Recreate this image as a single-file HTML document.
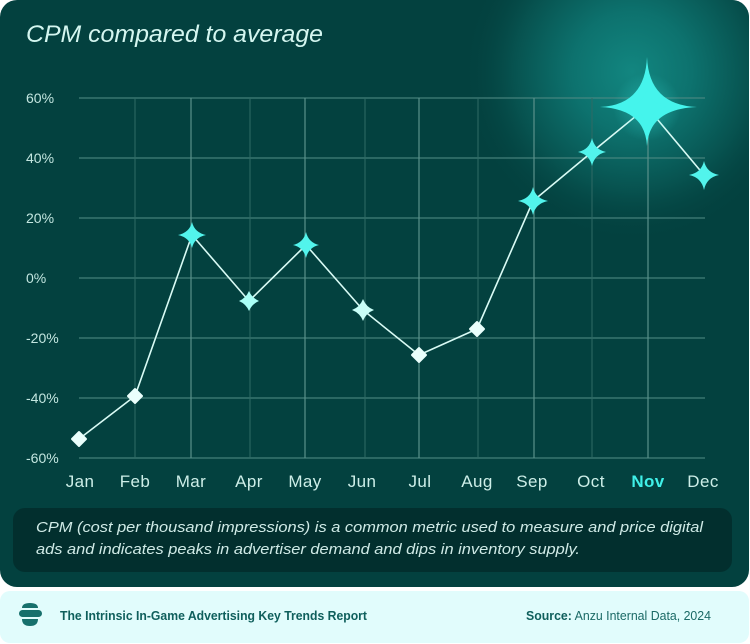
<!DOCTYPE html>
<html><head><meta charset="utf-8"><style>
html,body{margin:0;padding:0;background:#fff;}
svg{display:block;}
text{font-family:"Liberation Sans",sans-serif;}
</style></head><body>
<svg width="750" height="644" viewBox="0 0 750 644" xmlns="http://www.w3.org/2000/svg">
<defs>
<clipPath id="panel"><rect x="0" y="0" width="749" height="587" rx="17"/></clipPath>
<radialGradient id="glow" cx="632" cy="72" r="170" gradientUnits="userSpaceOnUse">
<stop offset="0" stop-color="#128680"/>
<stop offset="0.35" stop-color="#0d726e"/>
<stop offset="0.7" stop-color="#07524f"/>
<stop offset="1" stop-color="#03413f" stop-opacity="0"/>
</radialGradient>
<radialGradient id="starglow" cx="647" cy="107" r="34" gradientUnits="userSpaceOnUse">
<stop offset="0" stop-color="#3ff0e8" stop-opacity="0.35"/>
<stop offset="1" stop-color="#3ff0e8" stop-opacity="0"/>
</radialGradient>
</defs>

<!-- main panel -->
<rect x="0" y="0" width="749" height="587" rx="17" fill="#03413f"/>
<g clip-path="url(#panel)">
<rect x="380" y="-120" width="420" height="400" fill="url(#glow)"/>
</g>

<!-- title -->
<text x="26" y="42" font-size="24" font-style="italic" fill="#d4f6f0" textLength="297" lengthAdjust="spacingAndGlyphs">CPM compared to average</text>

<!-- grid horizontal -->
<g stroke="#4f8a84" stroke-width="1.2" opacity="0.85">
<line x1="79" y1="98" x2="705" y2="98"/>
<line x1="79" y1="158" x2="705" y2="158"/>
<line x1="79" y1="218" x2="705" y2="218"/>
<line x1="79" y1="278" x2="705" y2="278"/>
<line x1="79" y1="338" x2="705" y2="338"/>
<line x1="79" y1="398" x2="705" y2="398"/>
<line x1="79" y1="458" x2="705" y2="458"/>
</g>
<!-- grid vertical -->
<g stroke="#2f6a65" stroke-width="1">
<line x1="135" y1="98" x2="135" y2="458"/>
<line x1="250" y1="98" x2="250" y2="458"/>
<line x1="365" y1="98" x2="365" y2="458"/>
<line x1="478" y1="98" x2="478" y2="458"/>
<line x1="592" y1="98" x2="592" y2="458"/>
</g>
<g stroke="#5a918b" stroke-width="1.2">
<line x1="191" y1="98" x2="191" y2="458"/>
<line x1="305" y1="98" x2="305" y2="458"/>
<line x1="419" y1="98" x2="419" y2="458"/>
<line x1="534" y1="98" x2="534" y2="458"/>
<line x1="648" y1="98" x2="648" y2="458"/>
</g>

<!-- y labels -->
<g font-size="14" fill="#c3e6e0">
<text x="26" y="103">60%</text>
<text x="26" y="163">40%</text>
<text x="26" y="223">20%</text>
<text x="26" y="283">0%</text>
<text x="26" y="343">-20%</text>
<text x="26" y="403">-40%</text>
<text x="26" y="463">-60%</text>
</g>

<!-- x labels -->
<g font-size="17" fill="#cdeee8" text-anchor="middle" letter-spacing="0.4">
<text x="80" y="487">Jan</text>
<text x="135" y="487">Feb</text>
<text x="191" y="487">Mar</text>
<text x="249" y="487">Apr</text>
<text x="305" y="487">May</text>
<text x="362" y="487">Jun</text>
<text x="420" y="487">Jul</text>
<text x="477" y="487">Aug</text>
<text x="532" y="487">Sep</text>
<text x="591" y="487">Oct</text>
<text x="648" y="487" font-weight="bold" fill="#3ff0e8">Nov</text>
<text x="703" y="487">Dec</text>
</g>

<!-- series line -->
<polyline fill="none" stroke="#d9fbf5" stroke-width="1.6" stroke-linejoin="round"
points="79,439 135,396 192,235 249,301 306,245 363,310 419,355 477,329 533,201 592,152 647,107 704,175"/>

<!-- diamonds -->
<g fill="#eafffc" stroke="#eafffc" stroke-width="2" stroke-linejoin="round">
<path d="M79,432 L86,439 L79,446 L72,439 Z"/>
<path d="M135,389 L142,396 L135,403 L128,396 Z"/>
<path d="M419,348 L426,355 L419,362 L412,355 Z"/>
<path d="M477,322 L484,329 L477,336 L470,329 Z"/>
</g>
<!-- Jun / Apr concave markers -->
<path fill="#c9fff8" d="M363,299 Q366,307 374,310 Q366,313 363,321 Q360,313 352,310 Q360,307 363,299 Z"/>
<path fill="#a9fff6" d="M249,291 Q252,298 259,301 Q252,304 249,311 Q246,304 239,301 Q246,298 249,291 Z"/>

<!-- cyan stars -->
<g fill="#52f4ec">
<path d="M192,222 Q194.5,232.5 206,235 Q194.5,237.5 192,248 Q189.5,237.5 178,235 Q189.5,232.5 192,222 Z"/>
<path d="M306,232 Q308.5,242.5 319,245 Q308.5,247.5 306,258 Q303.5,247.5 293,245 Q303.5,242.5 306,232 Z"/>
<path d="M533,187 Q535.5,198.5 548,201 Q535.5,203.5 533,215 Q530.5,203.5 518,201 Q530.5,198.5 533,187 Z"/>
<path d="M592,138 Q594.5,149.5 606,152 Q594.5,154.5 592,166 Q589.5,154.5 578,152 Q589.5,149.5 592,138 Z"/>
<path d="M704,161 Q706.5,172.5 719,175 Q706.5,177.5 704,190 Q701.5,177.5 689,175 Q701.5,172.5 704,161 Z"/>
</g>
<!-- Nov big star -->
<circle cx="647" cy="107" r="34" fill="url(#starglow)"/>
<g fill="#45f4ec">
<path d="M647,57 Q649,105 697,107 Q649,109 647,146 Q645,109 600,107 Q645,105 647,57 Z"/>
<path d="M647,88 Q650,104 666,107 Q650,110 647,128 Q644,110 628,107 Q644,104 647,88 Z"/>
</g>

<!-- caption box -->
<rect x="13" y="508" width="719" height="64" rx="12" fill="#022f2e"/>
<g font-size="15" font-style="italic" fill="#cfeae6">
<text x="36" y="532" textLength="667" lengthAdjust="spacingAndGlyphs">CPM (cost per thousand impressions) is a common metric used to measure and price digital</text>
<text x="36" y="554" textLength="544" lengthAdjust="spacingAndGlyphs">ads and indicates peaks in advertiser demand and dips in inventory supply.</text>
</g>

<!-- footer -->
<rect x="0" y="591" width="749" height="52" rx="10" fill="#e1fcfc"/>
<g fill="#17706c">
<path d="M22,608 Q22,603 30,603 Q38,603 38,608 Z"/>
<rect x="19" y="610" width="23" height="7" rx="3.5"/>
<path d="M22,619 L38,619 Q38,626 30,626 Q22,626 22,619 Z"/>
</g>
<text x="60" y="620" font-size="13" font-weight="bold" fill="#0f5f5c" textLength="307" lengthAdjust="spacingAndGlyphs">The Intrinsic In-Game Advertising Key Trends Report</text>
<text x="526" y="620" font-size="13" fill="#1b6a66" textLength="185" lengthAdjust="spacingAndGlyphs"><tspan font-weight="bold" fill="#0f5f5c">Source:</tspan> Anzu Internal Data, 2024</text>
</svg>
</body></html>
